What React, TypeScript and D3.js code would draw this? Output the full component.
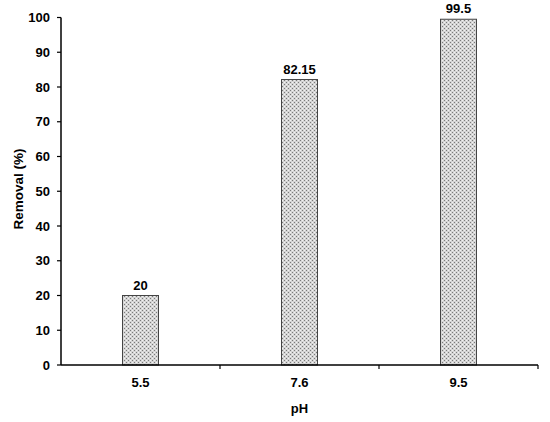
import React from 'react';
import * as d3 from 'd3';

const categories = ['5.5', '7.6', '9.5'];
const removal = [20, 82.15, 99.5];
const valueLabels = ['20', '82.15', '99.5'];
const yTicks = [0, 10, 20, 30, 40, 50, 60, 70, 80, 90, 100];

const W = 550;
const H = 422;
const margin = { top: 17, right: 12, bottom: 57, left: 61 };

export default function App() {
  const x = d3.scaleBand().domain(categories).range([margin.left, W - margin.right]).padding(0);
  const y = d3.scaleLinear().domain([0, 100]).range([H - margin.bottom, margin.top + 0.5]);
  const barW = 36;
  const font = 'Arial, "Liberation Sans", sans-serif';
  const y0 = y(0);
  const bounds = categories.map((c) => (x(c) as number) + x.bandwidth());

  return (
    <svg width={W} height={H} style={{ position: 'absolute', left: 0, top: 0 }}>
      <defs>
        <pattern id="dots" width="4" height="4" patternUnits="userSpaceOnUse">
          <rect width="4" height="4" fill="#d4d4d4" />
          <rect x="0" y="0" width="1" height="1" fill="#7a7a7a" />
          <rect x="2" y="2" width="1" height="1" fill="#7a7a7a" />
          <rect x="2" y="0" width="1" height="1" fill="#f2f2f2" />
          <rect x="0" y="2" width="1" height="1" fill="#f2f2f2" />
        </pattern>
      </defs>
      <rect width={W} height={H} fill="#fff" />
      {categories.map((c, i) => {
        const cx = (x(c) as number) + x.bandwidth() / 2;
        return (
          <g key={c}>
            <rect
              x={cx - barW / 2}
              y={y(removal[i])}
              width={barW}
              height={y0 - y(removal[i])}
              fill="url(#dots)"
              stroke="#444"
              strokeWidth={1}
            />
            <text
              x={cx}
              y={y(removal[i]) - 6}
              textAnchor="middle"
              fontFamily={font}
              fontWeight="bold"
              fontSize={13}
            >
              {valueLabels[i]}
            </text>
            <text
              x={cx}
              y={y0 + 22}
              textAnchor="middle"
              fontFamily={font}
              fontWeight="bold"
              fontSize={13}
            >
              {c}
            </text>
          </g>
        );
      })}
      {/* y axis */}
      <line x1={margin.left} x2={margin.left} y1={y(100)} y2={y0} stroke="#000" strokeWidth={1.5} />
      {yTicks.map((t) => (
        <g key={t}>
          <line x1={margin.left - 4} x2={margin.left} y1={y(t)} y2={y(t)} stroke="#000" strokeWidth={1.2} />
          <text
            x={margin.left - 11}
            y={y(t)}
            dy="0.36em"
            textAnchor="end"
            fontFamily={font}
            fontWeight="bold"
            fontSize={13}
          >
            {t}
          </text>
        </g>
      ))}
      {/* x axis */}
      <line x1={margin.left} x2={W - margin.right} y1={y0} y2={y0} stroke="#000" strokeWidth={1.5} />
      {bounds.map((b, i) => (
        <line key={i} x1={b} x2={b} y1={y0} y2={y0 + 4} stroke="#000" strokeWidth={1.2} />
      ))}
      <text
        x={(margin.left + W - margin.right) / 2}
        y={y0 + 48}
        textAnchor="middle"
        fontFamily={font}
        fontWeight="bold"
        fontSize={13}
      >
        pH
      </text>
      <text
        transform={`translate(23, 189) rotate(-90)`}
        textAnchor="middle"
        fontFamily={font}
        fontWeight="bold"
        fontSize={13.5}
      >
        Removal (%)
      </text>
    </svg>
  );
}
